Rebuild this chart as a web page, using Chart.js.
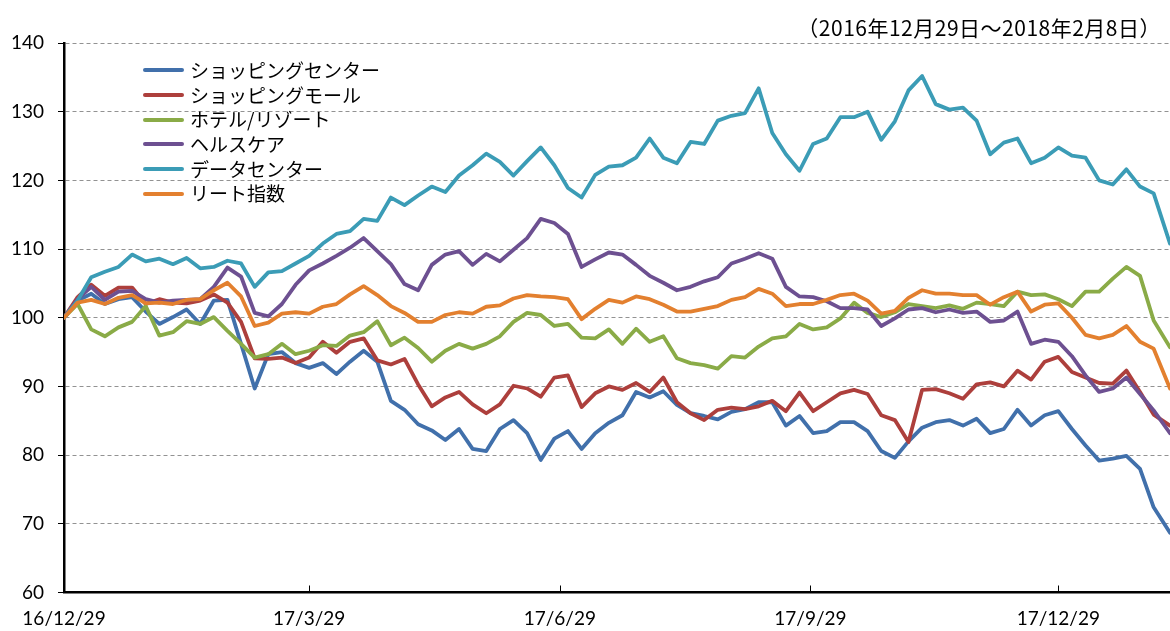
<!DOCTYPE html>
<html lang="ja">
<head>
<meta charset="utf-8">
<title>J-REIT sector index</title>
<script src="https://cdn.jsdelivr.net/npm/chart.js@4"></script>
<style>
    html, body { margin: 0; padding: 0; background: #fff; }
    #wrap { position: relative; width: 1170px; height: 631px; }
    #period {
        position: absolute; right: 9px; top: 13px;
        font: 21px "Noto Sans CJK JP"; line-height: 28px; letter-spacing: 0.5px; color: #000;
    }
    #legend { position: absolute; left: 143px; top: 58px; font: 19px "Noto Sans CJK JP"; color: #000; }
    .item { display: flex; align-items: center; height: 24.7px; line-height: 24.7px; white-space: nowrap; }
    .swatch { width: 41px; height: 4px; border-radius: 2px; margin-right: 6px; }
</style>
</head>
<body>
<div id="wrap">
    <canvas id="chart" width="1170" height="631"></canvas>
    <div id="period">（2016年12月29日～2018年2月8日）</div>
    <div id="legend"></div>
</div>
<script>
// sample dates (every 5 days, last = final day of the period)
const dates = [
    '2016-12-29', '2017-01-03', '2017-01-08', '2017-01-13', '2017-01-18', '2017-01-23', '2017-01-28', '2017-02-02', '2017-02-07', '2017-02-12',
    '2017-02-17', '2017-02-22', '2017-02-27', '2017-03-04', '2017-03-09', '2017-03-14', '2017-03-19', '2017-03-24', '2017-03-29', '2017-04-03',
    '2017-04-08', '2017-04-13', '2017-04-18', '2017-04-23', '2017-04-28', '2017-05-03', '2017-05-08', '2017-05-13', '2017-05-18', '2017-05-23',
    '2017-05-28', '2017-06-02', '2017-06-07', '2017-06-12', '2017-06-17', '2017-06-22', '2017-06-27', '2017-07-02', '2017-07-07', '2017-07-12',
    '2017-07-17', '2017-07-22', '2017-07-27', '2017-08-01', '2017-08-06', '2017-08-11', '2017-08-16', '2017-08-21', '2017-08-26', '2017-08-31',
    '2017-09-05', '2017-09-10', '2017-09-15', '2017-09-20', '2017-09-25', '2017-09-30', '2017-10-05', '2017-10-10', '2017-10-15', '2017-10-20',
    '2017-10-25', '2017-10-30', '2017-11-04', '2017-11-09', '2017-11-14', '2017-11-19', '2017-11-24', '2017-11-29', '2017-12-04', '2017-12-09',
    '2017-12-14', '2017-12-19', '2017-12-24', '2017-12-29', '2018-01-03', '2018-01-08', '2018-01-13', '2018-01-18', '2018-01-23', '2018-01-28',
    '2018-02-02', '2018-02-08'
];

const tickDates = ['2016-12-29', '2017-03-29', '2017-06-29', '2017-09-29', '2017-12-29'];
const tickLabels = ['16/12/29', '17/3/29', '17/6/29', '17/9/29', '17/12/29'];

const seriesNames = ['ショッピングセンター', 'ショッピングモール', 'ホテル/リゾート', 'ヘルスケア', 'データセンター', 'リート指数'];
const seriesColors = ['#4170ab', '#ad3f3c', '#8aab47', '#6d5091', '#3b9cb6', '#e3802f'];

const shoppingCenter = [
    100, 102.5, 103.5, 102, 102.7, 103, 100.9, 99.1, 100.1, 101.2,
    99.1, 102.5, 102.6, 96.2, 89.7, 94.7, 95, 93.4, 92.7, 93.4,
    91.8, 93.6, 95.2, 93.6, 87.9, 86.6, 84.5, 83.6, 82.2, 83.8,
    80.9, 80.6, 83.8, 85.1, 83.2, 79.3, 82.4, 83.5, 80.9, 83.2,
    84.7, 85.8, 89.2, 88.4, 89.3, 87.3, 86.1, 85.7, 85.2, 86.3,
    86.7, 87.7, 87.7, 84.3, 85.7, 83.2, 83.5, 84.8, 84.8, 83.5,
    80.6, 79.6, 82, 84, 84.8, 85.1, 84.3, 85.3, 83.2, 83.8,
    86.6, 84.3, 85.8, 86.4, 83.8, 81.4, 79.2, 79.5, 79.9, 78,
    72.4, 68.7
];
const shoppingMall = [
    100, 103, 104.8, 103.2, 104.4, 104.4, 102, 102.7, 102.2, 102.1,
    102.5, 103.4, 102.2, 99.4, 94.1, 94, 94.2, 93.4, 94.2, 96.5,
    94.9, 96.5, 97, 93.8, 93.2, 94, 90.3, 87.1, 88.4, 89.2,
    87.4, 86.1, 87.4, 90.1, 89.7, 88.5, 91.3, 91.6, 87, 89,
    90, 89.5, 90.5, 89.2, 91.3, 87.7, 86.1, 85.1, 86.6, 86.9,
    86.7, 87.1, 87.9, 86.4, 89.1, 86.4, 87.7, 89, 89.5, 88.9,
    85.8, 85.1, 81.9, 89.5, 89.6, 89, 88.2, 90.3, 90.6, 90,
    92.3, 91, 93.6, 94.3, 92.1, 91.3, 90.5, 90.4, 92.3, 89.2,
    85.9, 84.3
];
const hotelResort = [
    100, 102, 98.3, 97.3, 98.6, 99.4, 101.7, 97.4, 97.9, 99.5,
    99.1, 100.1, 98.1, 96.2, 94.2, 94.7, 96.2, 94.7, 95.2, 96,
    95.9, 97.4, 97.9, 99.5, 96, 97.1, 95.6, 93.6, 95.2, 96.2,
    95.5, 96.2, 97.3, 99.4, 100.7, 100.4, 98.8, 99.1, 97.1, 97,
    98.3, 96.2, 98.4, 96.5, 97.3, 94.1, 93.4, 93.1, 92.6, 94.4,
    94.2, 95.8, 97, 97.3, 99.1, 98.3, 98.6, 99.9, 102.2, 100.7,
    100.1, 100.8, 102, 101.7, 101.4, 101.8, 101.3, 102.2, 102, 101.7,
    103.8, 103.3, 103.4, 102.7, 101.7, 103.8, 103.8, 105.7, 107.4, 106.1,
    99.6, 95.7
];
const healthcare = [
    100, 102.7, 104.5, 102.6, 103.8, 103.9, 102.7, 102.2, 102.5, 102.6,
    102.7, 104.5, 107.3, 106, 100.7, 100.2, 102, 104.8, 106.9, 107.9,
    109, 110.2, 111.6, 109.7, 107.8, 104.9, 104, 107.7, 109.2, 109.7,
    107.7, 109.3, 108.2, 109.9, 111.6, 114.4, 113.8, 112.2, 107.4, 108.5,
    109.5, 109.2, 107.7, 106.1, 105.1, 104, 104.5, 105.3, 105.9, 107.9,
    108.6, 109.4, 108.6, 104.5, 103.1, 103, 102.4, 101.4, 101.4, 101.2,
    98.8, 99.9, 101.2, 101.4, 100.8, 101.2, 100.7, 100.9, 99.4, 99.6,
    100.9, 96.2, 96.8, 96.5, 94.4, 91.6, 89.2, 89.7, 91.3, 88.9,
    86.5, 83.2
];
const dataCenter = [
    100, 102.5, 105.9, 106.7, 107.4, 109.2, 108.2, 108.6, 107.8, 108.7,
    107.2, 107.4, 108.3, 107.9, 104.5, 106.6, 106.8, 107.9, 109, 110.8,
    112.2, 112.6, 114.4, 114.1, 117.5, 116.4, 117.8, 119.1, 118.3, 120.7,
    122.2, 123.9, 122.7, 120.7, 122.8, 124.8, 122.2, 118.9, 117.5, 120.8,
    122, 122.2, 123.3, 126.1, 123.3, 122.5, 125.6, 125.3, 128.7, 129.4,
    129.8, 133.4, 126.9, 123.8, 121.4, 125.3, 126.1, 129.2, 129.2, 130,
    125.9, 128.6, 133.1, 135.2, 131.1, 130.3, 130.6, 128.7, 123.8, 125.5,
    126.1, 122.5, 123.3, 124.8, 123.6, 123.3, 120, 119.4, 121.6, 119.1,
    118.1, 110.8
];
const reitIndex = [
    100, 102.2, 102.6, 102, 102.9, 103.3, 102.1, 102.2, 102, 102.6,
    102.7, 104, 105.1, 103.1, 98.8, 99.3, 100.6, 100.8, 100.6, 101.6,
    102, 103.4, 104.6, 103.3, 101.7, 100.7, 99.4, 99.4, 100.4, 100.8,
    100.6, 101.6, 101.8, 102.8, 103.3, 103.1, 103, 102.7, 99.8, 101.3,
    102.6, 102.2, 103.1, 102.7, 101.9, 100.9, 100.9, 101.3, 101.7, 102.6,
    103, 104.2, 103.5, 101.7, 102, 102, 102.6, 103.3, 103.5, 102.5,
    100.6, 101, 102.9, 104, 103.5, 103.5, 103.3, 103.3, 101.9, 103,
    103.8, 100.9, 101.9, 102.1, 100, 97.5, 97, 97.5, 98.8, 96.5,
    95.5, 89.7
];

const seriesValues = [shoppingCenter, shoppingMall, hotelResort, healthcare, dataCenter, reitIndex];

// days since the first date, used as x
const dayOf = s => Math.round((Date.parse(s) - Date.parse(dates[0])) / 86400000);
const xDays = dates.map(dayOf);
const tickDays = tickDates.map(dayOf);

const datasets = seriesNames.map((name, i) => ({
    label: name,
    data: seriesValues[i].map((v, j) => ({ x: xDays[j], y: v })),
    borderColor: seriesColors[i],
    backgroundColor: seriesColors[i],
    borderWidth: 3.8,
    borderJoinStyle: 'round',
    borderCapStyle: 'round',
    pointRadius: 0,
    tension: 0,
    order: seriesNames.length - i,   // later series on top, like the original
}));

// small tick marks pointing up into the plot on the date axis
const innerTicks = {
    id: 'innerTicks',
    afterDraw(chart) {
        const xs = chart.scales.x;
        const ctx = chart.ctx;
        const bottom = chart.chartArea.bottom;
        ctx.save();
        ctx.strokeStyle = '#000';
        ctx.lineWidth = 1;
        xs.ticks.forEach(t => {
            const px = Math.round(xs.getPixelForValue(t.value)) + 0.5;
            if (px < chart.chartArea.left + 3) return;
            ctx.beginPath();
            ctx.moveTo(px, bottom);
            ctx.lineTo(px, bottom - 7);
            ctx.stroke();
        });
        ctx.restore();
    }
};

Chart.defaults.font.family = 'Lato, "Noto Sans", sans-serif';
Chart.defaults.color = '#000';

new Chart(document.getElementById('chart'), {
    type: 'line',
    data: { datasets: datasets },
    options: {
        responsive: false,
        devicePixelRatio: 1,
        animation: false,
        layout: { padding: { top: 43, left: 0, right: 0, bottom: 0 } },
        plugins: {
            legend: { display: false },
            tooltip: { enabled: false },
        },
        scales: {
            x: {
                type: 'linear',
                min: xDays[0],
                max: xDays[xDays.length - 1],
                afterBuildTicks: scale => { scale.ticks = tickDays.map(d => ({ value: d })); },
                afterFit: scale => { scale.height = 38.5; },
                ticks: {
                    autoSkip: false,
                    maxRotation: 0,
                    padding: 15,
                    font: { size: 19 },
                    callback: (value, index) => tickLabels[index],
                },
                grid: { display: true, drawOnChartArea: false, drawTicks: false },
                border: { color: '#000', width: 2.5 },
            },
            y: {
                min: 60,
                max: 140,
                afterFit: scale => { scale.width = 64; },
                ticks: { stepSize: 10, padding: 14, font: { size: 19 } },
                grid: {
                    color: '#929292',
                    lineWidth: 1,
                    tickLength: 6,
                    tickColor: '#000',
                    tickWidth: 1,
                    tickBorderDash: [],
                },
                border: { color: '#000', width: 2.5, dash: [4, 3] },
            },
        },
    },
    plugins: [innerTicks],
});

// legend as real text, built from the same names and colours
const legend = document.getElementById('legend');
seriesNames.forEach((name, i) => {
    const row = document.createElement('div');
    row.className = 'item';
    const sw = document.createElement('span');
    sw.className = 'swatch';
    sw.style.background = seriesColors[i];
    const label = document.createElement('span');
    label.textContent = name;
    row.appendChild(sw);
    row.appendChild(label);
    legend.appendChild(row);
});
</script>
</body>
</html>
